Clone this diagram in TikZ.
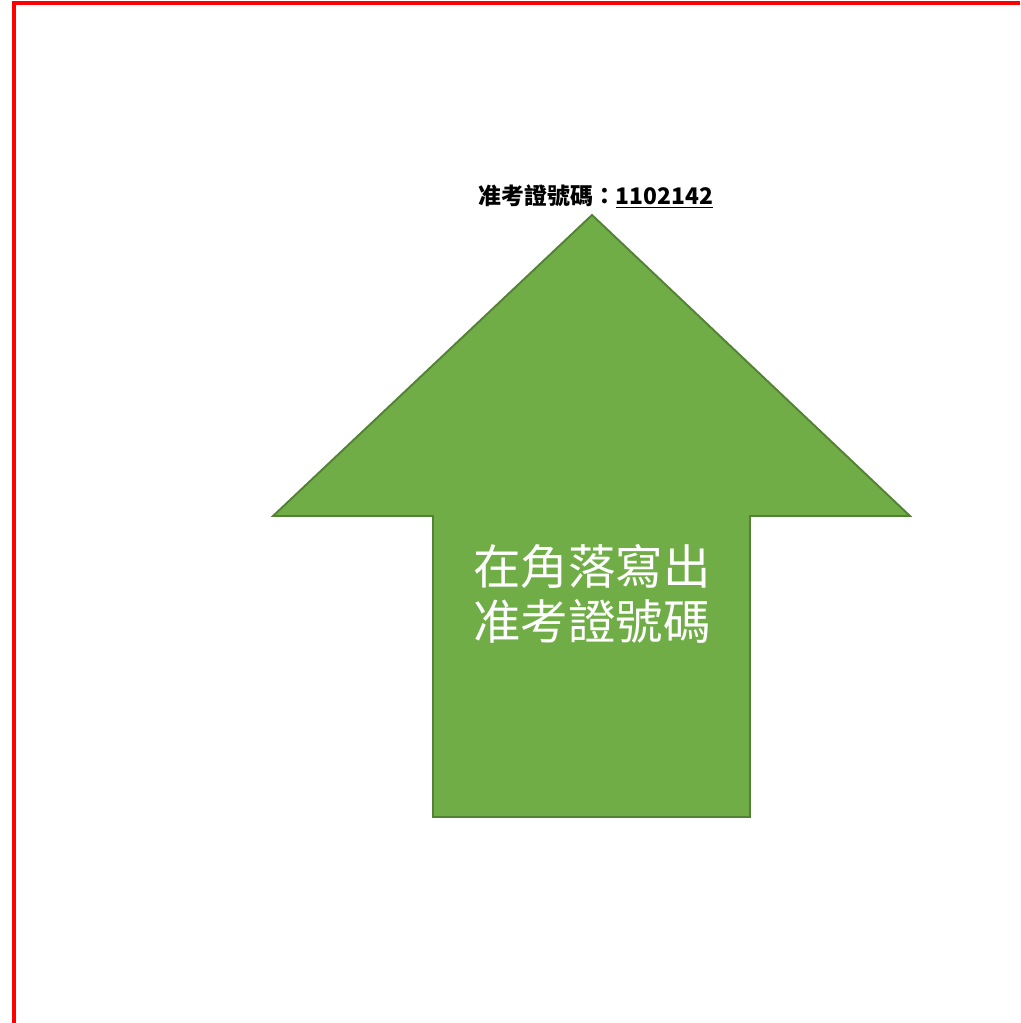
\documentclass[tikz,border=0pt]{standalone}
\usepackage{fontspec}
\newfontfamily\cjk{Noto Sans CJK TC}
\usetikzlibrary{positioning}
\definecolor{argreen}{HTML}{70AD47}
\definecolor{ardark}{HTML}{548235}
\tikzstyle{frame}    = [draw=red, line width=2.3pt]
\tikzstyle{bigarrow} = [fill=argreen, draw=ardark, line width=1.1pt, line join=miter]
\tikzstyle{inside}   = [text=white, align=center, inner sep=0pt, font=\cjk\fontsize{27}{31}\selectfont]
\tikzstyle{note}     = [inner sep=0pt, font=\cjk\bfseries\fontsize{13}{16}\selectfont]

\begin{document}
\begin{tikzpicture}[x=0.02cm, y=-0.02cm]
     \useasboundingbox (0,0) rectangle (1020,1023);
     \draw[frame] (14,1023) -- (14,3) -- (1020,3);
     \filldraw[bigarrow]
       (592,215) -- (910,516) -- (750,516) -- (750,817)
       -- (433,817) -- (433,516) -- (273,516) -- cycle;
     \node[inside] (mark)   at (592,594) {在角落寫出\\准考證號碼};
     \node[note]   (number) at (596,197) {准考證號碼：\underline{1102142}};
\end{tikzpicture}
\end{document}
